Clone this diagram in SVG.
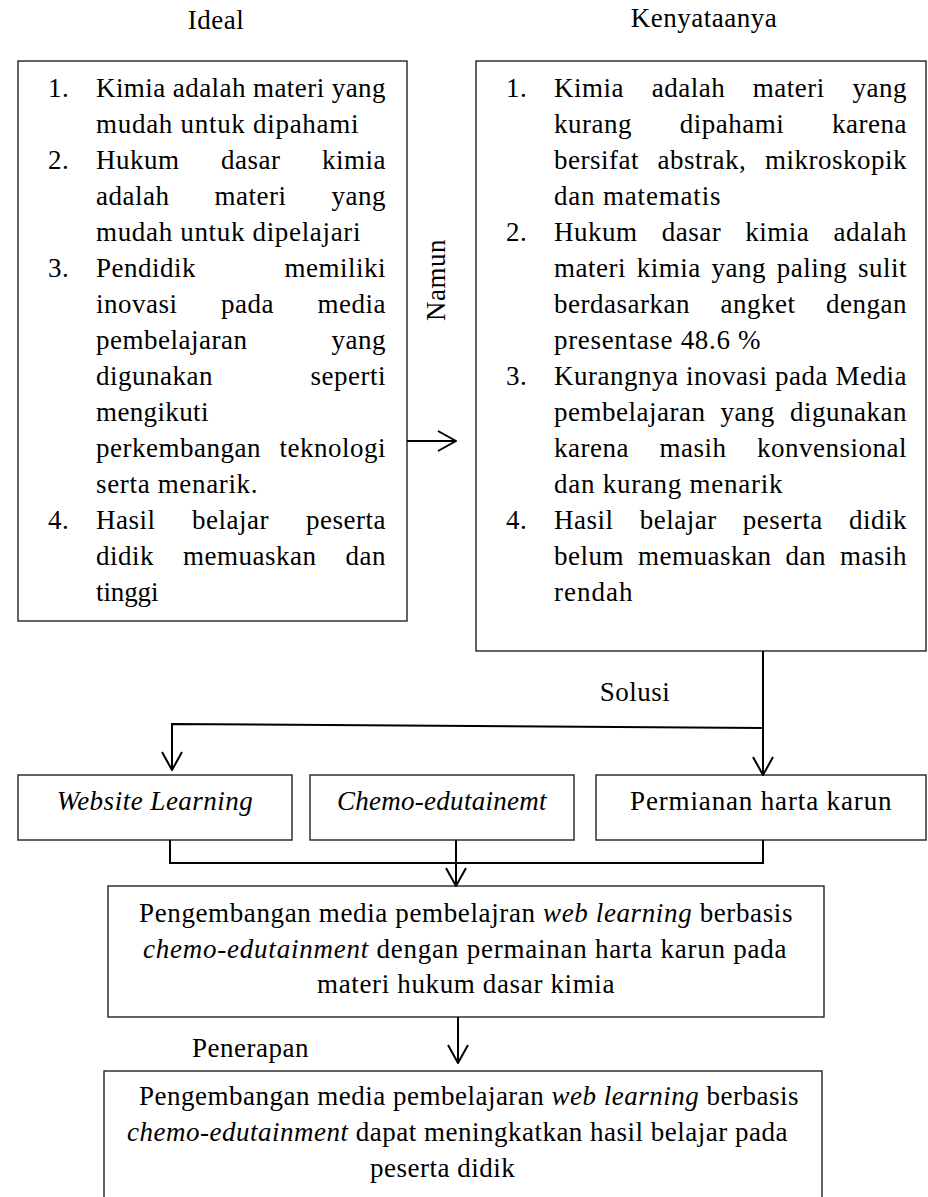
<svg xmlns="http://www.w3.org/2000/svg" width="928" height="1197" viewBox="0 0 928 1197">
<style>
.t{font-family:"Liberation Serif","Times New Roman",serif;font-size:27px;fill:#000;letter-spacing:0.5px}
.i{font-style:italic}
.box{fill:#fff;stroke:#222;stroke-width:1.4}
.c{fill:none;stroke:#000;stroke-width:2}
.e{text-anchor:end}
.m{text-anchor:middle}
</style>
<defs>
<marker id="ah" markerUnits="userSpaceOnUse" viewBox="0 0 20 22" refX="19" refY="11" markerWidth="20" markerHeight="22" orient="auto">
<path d="M1,1 L19,11 L1,21" fill="none" stroke="#000" stroke-width="2"/>
</marker>
</defs>
<rect width="928" height="1197" fill="#fff"/>

<g id="label-ideal"><text class="t m" x="216" y="29">Ideal</text></g>
<g id="label-kenyataan"><text class="t m" x="704" y="27">Kenyataanya</text></g>

<g id="ideal">
<rect class="box" x="18" y="61" width="389" height="560"/>
<text class="t" x="48" y="97">1.</text>
<text class="t" x="96" y="97" textLength="290">Kimia adalah materi yang</text>
<text class="t" x="96" y="133" textLength="263">mudah untuk dipahami</text>
<text class="t" x="48" y="169">2.</text>
<text class="t" x="96" y="169">Hukum</text><text class="t" x="221" y="169">dasar</text><text class="t e" x="386" y="169">kimia</text>
<text class="t" x="96" y="205">adalah</text><text class="t" x="214.5" y="205">materi</text><text class="t e" x="386" y="205">yang</text>
<text class="t" x="96" y="241" textLength="265">mudah untuk dipelajari</text>
<text class="t" x="48" y="277">3.</text>
<text class="t" x="96" y="277">Pendidik</text><text class="t e" x="386" y="277">memiliki</text>
<text class="t" x="96" y="313">inovasi</text><text class="t" x="221" y="313">pada</text><text class="t e" x="386" y="313">media</text>
<text class="t" x="96" y="349">pembelajaran</text><text class="t e" x="386" y="349">yang</text>
<text class="t" x="96" y="385">digunakan</text><text class="t e" x="386" y="385">seperti</text>
<text class="t" x="96" y="421" textLength="113">mengikuti</text>
<text class="t" x="96" y="457">perkembangan</text><text class="t e" x="386" y="457">teknologi</text>
<text class="t" x="96" y="493" textLength="162">serta menarik.</text>
<text class="t" x="48" y="529">4.</text>
<text class="t" x="96" y="529">Hasil</text><text class="t" x="192" y="529">belajar</text><text class="t e" x="386" y="529">peserta</text>
<text class="t" x="96" y="565">didik</text><text class="t" x="183" y="565">memuaskan</text><text class="t e" x="386" y="565">dan</text>
<text class="t" x="96" y="601" textLength="63">tinggi</text>
</g>

<g id="kenyataan">
<rect class="box" x="476" y="61" width="450" height="590"/>
<text class="t" x="506" y="97">1.</text>
<text class="t" x="554" y="97">Kimia</text><text class="t" x="651.7" y="97">adalah</text><text class="t" x="752.8" y="97">materi</text><text class="t e" x="907" y="97">yang</text>
<text class="t" x="554" y="133">kurang</text><text class="t" x="679.7" y="133">dipahami</text><text class="t e" x="907" y="133">karena</text>
<text class="t" x="554" y="169">bersifat</text><text class="t" x="657.6" y="169">abstrak,</text><text class="t e" x="907" y="169">mikroskopik</text>
<text class="t" x="554" y="205" textLength="167">dan matematis</text>
<text class="t" x="506" y="241">2.</text>
<text class="t" x="554" y="241">Hukum</text><text class="t" x="661.7" y="241">dasar</text><text class="t" x="745.3" y="241">kimia</text><text class="t e" x="907" y="241">adalah</text>
<text class="t" x="554" y="277">materi</text><text class="t" x="636.7" y="277">kimia</text><text class="t" x="711.5" y="277">yang</text><text class="t" x="776.7" y="277">paling</text><text class="t e" x="907" y="277">sulit</text>
<text class="t" x="554" y="313">berdasarkan</text><text class="t" x="720.5" y="313">angket</text><text class="t e" x="907" y="313">dengan</text>
<text class="t" x="554" y="349" textLength="207">presentase 48.6 %</text>
<text class="t" x="506" y="385">3.</text>
<text class="t" x="554" y="385">Kurangnya</text><text class="t" x="686" y="385">inovasi</text><text class="t" x="775" y="385">pada</text><text class="t e" x="907" y="385">Media</text>
<text class="t" x="554" y="421">pembelajaran</text><text class="t" x="720.4" y="421">yang</text><text class="t e" x="907" y="421">digunakan</text>
<text class="t" x="554" y="457">karena</text><text class="t" x="659.5" y="457">masih</text><text class="t e" x="907" y="457">konvensional</text>
<text class="t" x="554" y="493" textLength="229">dan kurang menarik</text>
<text class="t" x="506" y="529">4.</text>
<text class="t" x="554" y="529">Hasil</text><text class="t" x="639.7" y="529">belajar</text><text class="t" x="742.8" y="529">peserta</text><text class="t e" x="907" y="529">didik</text>
<text class="t" x="554" y="565">belum</text><text class="t" x="638" y="565">memuaskan</text><text class="t" x="785.5" y="565">dan</text><text class="t e" x="907" y="565">masih</text>
<text class="t" x="554" y="601" textLength="79">rendah</text>
</g>

<g id="label-namun"><text class="t m" transform="translate(445,280) rotate(-90)">Namun</text></g>
<g id="label-solusi"><text class="t m" x="635" y="701">Solusi</text></g>

<g id="website">
<rect class="box" x="18" y="775" width="274" height="65"/>
<text class="t i m" x="155" y="810">Website Learning</text>
</g>
<g id="chemo">
<rect class="box" x="310" y="775" width="264" height="65"/>
<text class="t i m" x="442" y="810" textLength="210">Chemo-edutainemt</text>
</g>
<g id="permainan">
<rect class="box" x="596" y="775" width="330" height="65"/>
<text class="t m" x="761" y="810" textLength="262">Permianan harta karun</text>
</g>

<g id="pengembangan">
<rect class="box" x="108" y="886" width="716" height="131"/>
<text class="t" x="139" y="922" textLength="654">Pengembangan media pembelajran <tspan class="i">web learning</tspan> berbasis</text>
<text class="t" x="143" y="958" textLength="644"><tspan class="i">chemo-edutainment</tspan> dengan permainan harta karun pada</text>
<text class="t" x="317" y="993" textLength="298">materi hukum dasar kimia</text>
</g>

<g id="label-penerapan"><text class="t" x="192" y="1057">Penerapan</text></g>

<g id="hasil">
<rect class="box" x="104" y="1071" width="718" height="160"/>
<text class="t" x="139" y="1105">Pengembangan media pembelajaran <tspan class="i">web learning</tspan> berbasis</text>
<text class="t" x="127" y="1141"><tspan class="i">chemo-edutainment</tspan> dapat meningkatkan hasil belajar pada</text>
<text class="t" x="370" y="1177">peserta didik</text>
</g>

<g id="connectors">
<path class="c" d="M407,441 H456" marker-end="url(#ah)"/>
<path class="c" d="M763,651 V775" marker-end="url(#ah)"/>
<path class="c" d="M763,728 L172,724 V770" marker-end="url(#ah)"/>
<path class="c" d="M170,840 V863 H763 V840"/>
<path class="c" d="M456,840 V886" marker-end="url(#ah)"/>
<path class="c" d="M458,1017 V1063" marker-end="url(#ah)"/>
</g>
</svg>
